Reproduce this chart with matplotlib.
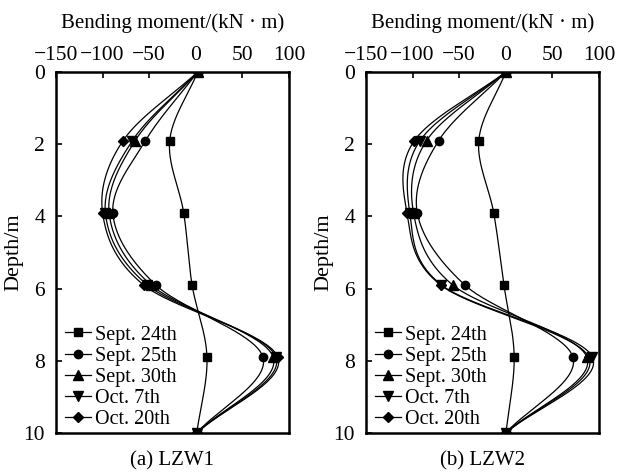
import numpy as np
import matplotlib
matplotlib.use("Agg")
import matplotlib.pyplot as plt

plt.rcParams['font.family'] = ['Liberation Serif', 'DejaVu Serif']
plt.rcParams['mathtext.fontset'] = 'stix'

depth = [0, 1.9, 3.9, 5.9, 7.9, 10]
series_names = ["Sept. 24th", "Sept. 25th", "Sept. 30th", "Oct. 7th", "Oct. 20th"]

# LZW1 bending moments (kN·m)
lzw1_sep24 = [2, -28, -13, -4, 12, 1]
lzw1_sep25 = [2, -54, -89, -43, 72, 1]
lzw1_sep30 = [2, -65, -93, -48, 83, 1]
lzw1_oct7 = [2, -68, -97, -52, 86, 1]
lzw1_oct20 = [2, -78, -100, -56, 88, 1]

# LZW2 bending moments (kN·m)
lzw2_sep24 = [0, -29, -13, -2, 9, 0]
lzw2_sep25 = [0, -72, -95, -44, 72, 0]
lzw2_sep30 = [0, -85, -99, -57, 87, 0]
lzw2_oct7 = [0, -92, -103, -69, 93, 0]
lzw2_oct20 = [0, -98, -106, -70, 89, 0]

xticks = [-150, -100, -50, 0, 50, 100]
yticks = [0, 2, 4, 6, 8, 10]
markers = ['s', 'o', '^', 'v', 'D']
msizes = [6, 6, 6.5, 6.5, 5.5]


def catmull_rom(xs, ys, n=40):
    xs = np.asarray(xs, float)
    ys = np.asarray(ys, float)
    px = np.concatenate([[2 * xs[0] - xs[1]], xs, [2 * xs[-1] - xs[-2]]])
    py = np.concatenate([[2 * ys[0] - ys[1]], ys, [2 * ys[-1] - ys[-2]]])
    ox, oy = [], []
    t = np.linspace(0, 1, n)
    for i in range(1, len(px) - 2):
        for arr, out in ((px, ox), (py, oy)):
            p0, p1, p2, p3 = arr[i - 1], arr[i], arr[i + 1], arr[i + 2]
            out.append(0.5 * ((2 * p1) + (-p0 + p2) * t
                              + (2 * p0 - 5 * p1 + 4 * p2 - p3) * t ** 2
                              + (-p0 + 3 * p1 - 3 * p2 + p3) * t ** 3))
    return np.concatenate(ox), np.concatenate(oy)


fig = plt.figure(figsize=(6.23, 4.75), dpi=100)
W, H = 623, 475
panels = [
    (56, "(a) LZW1", [lzw1_sep24, lzw1_sep25, lzw1_sep30, lzw1_oct7, lzw1_oct20]),
    (366, "(b) LZW2", [lzw2_sep24, lzw2_sep25, lzw2_sep30, lzw2_oct7, lzw2_oct20]),
]
for left, sub, data in panels:
    ax = fig.add_axes([left / W, 1 - 433 / H, 233 / W, (433 - 72) / H])
    for vals, name, mk, ms in zip(data, series_names, markers, msizes):
        sx, sy = catmull_rom(vals, depth)
        ax.plot(sx, sy, color='black', lw=0.9)
        ax.plot(vals, depth, linestyle='none', marker=mk, ms=ms, color='black')
        ax.plot([], [], color='black', lw=0.9, marker=mk, ms=ms, label=name)
    ax.set_xlim(-150, 100)
    ax.set_ylim(10, 0)
    ax.set_xticks(xticks)
    ax.set_yticks(yticks)
    ax.xaxis.tick_top()
    ax.xaxis.set_label_position('top')
    ax.tick_params(axis='both', direction='in', length=4, width=1.2, labelsize=15.5)
    ax.tick_params(axis='x', pad=5)
    ax.tick_params(axis='y', pad=8)
    for sp in ax.spines.values():
        sp.set_linewidth(1.8)
    ax.set_xlabel("Bending moment/(kN · m)", fontsize=15, labelpad=13)
    ax.set_ylabel("Depth/m", fontsize=16, labelpad=0)
    ax.legend(loc='lower left', frameon=False, fontsize=14.5, handlelength=1.3,
              handletextpad=0.2, labelspacing=0.1, borderaxespad=0.1,
              borderpad=0.1, bbox_to_anchor=(0.02, 0.0))
    fig.text((left + 116.5) / W, 1 - 461 / H, sub, fontsize=15, ha='center', va='center')

fig.savefig("out.png", dpi=100)
